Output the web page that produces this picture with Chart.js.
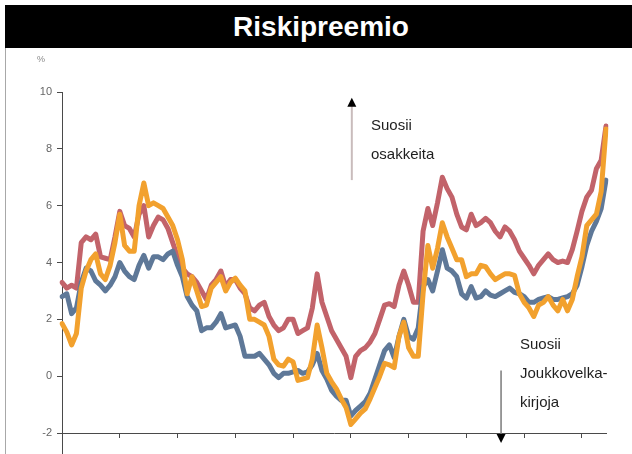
<!DOCTYPE html>
<html>
<head>
<meta charset="utf-8">
<script src="https://cdn.jsdelivr.net/npm/chart.js@4/dist/chart.umd.min.js"></script>
<style>
  html, body { margin: 0; padding: 0; background: #fff; }
  #wrap { position: relative; width: 632px; height: 454px; overflow: hidden; background: #fff; font-family: "Liberation Sans", Arial, sans-serif; }
  #bar { position: absolute; left: 5px; top: 5px; width: 622px; padding-left: 5px; height: 43px; background: #000; color: #fff;
         font: bold 28px "Liberation Sans", Arial, sans-serif; text-align: center; line-height: 43px; }
  #border { position: absolute; left: 5px; top: 48px; width: 1px; height: 406px; background: #a8a8a8; }
  canvas { position: absolute; left: 0; top: 0; }
  .note { position: absolute; font: 15px "Liberation Sans", Arial, sans-serif; color: #1e1e1e; line-height: 29px; white-space: nowrap; }
  #pct { position: absolute; left: 37px; top: 54px; font: 9px "Liberation Sans", Arial, sans-serif; color: #888; }
</style>
</head>
<body>
<div id="wrap">
  <canvas id="c" width="632" height="454"></canvas>
  <div id="bar">Riskipreemio</div>
  <div id="border"></div>
  <div id="pct">%</div>
  <div class="note" style="left:371px; top:110px;">Suosii<br>osakkeita</div>
  <div class="note" style="left:520px; top:329px;">Suosii<br>Joukkovelka-<br>kirjoja</div>
</div>
<script>
// ---- data (monthly observations, %) ----
const months = Array.from({ length: 114 }, (_, i) => String(i + 1));
const yearTickIndex = [12, 24, 36, 48, 60, 72, 84, 96, 108];
const yTicks = [-2, 0, 2, 4, 6, 8, 10];

const seriesOrange = [1.85,1.55,1.1,1.5,3.1,3.7,4.1,4.3,3.6,3.4,
  3.9,4.7,5.7,4.6,4.4,4.4,6.0,6.8,6.0,6.1,
  6.0,5.9,5.6,5.3,4.8,4.1,2.9,3.5,3.0,2.45,
  2.5,3.1,3.3,3.5,3.0,3.3,3.45,3.2,3.0,2.0,
  2.0,1.9,1.8,1.4,0.6,0.4,0.35,0.6,0.5,-0.15,
  -0.1,-0.05,0.6,1.8,1.0,0.1,-0.2,-0.45,-0.8,-1.1,
  -1.7,-1.5,-1.3,-1.15,-0.8,-0.4,0.0,0.45,0.4,0.3,
  1.4,1.9,1.0,0.7,0.7,2.9,4.6,3.8,4.5,5.4,
  4.9,4.5,4.1,4.1,3.5,3.6,3.6,3.9,3.85,3.6,
  3.4,3.5,3.6,3.6,3.55,2.9,2.6,2.4,2.1,2.5,
  2.6,2.8,2.5,2.3,2.7,2.3,2.7,3.5,4.2,5.3,
  5.5,5.7,6.5,8.7];

const seriesBlue = [2.8,2.9,2.2,2.4,3.3,3.8,3.7,3.35,3.2,3.0,
  3.2,3.5,4.0,3.7,3.5,3.4,3.9,4.25,3.8,4.2,
  4.2,4.1,4.3,4.4,3.9,3.5,2.8,2.5,2.3,1.6,
  1.7,1.7,1.9,2.2,1.7,1.75,1.8,1.4,0.7,0.7,
  0.7,0.8,0.6,0.4,0.1,-0.05,0.1,0.1,0.15,0.2,
  0.1,0.15,0.4,0.8,0.2,-0.1,-0.5,-0.7,-0.85,-0.85,
  -1.4,-1.2,-1.05,-0.9,-0.6,-0.1,0.4,0.9,1.1,0.65,
  1.4,2.0,1.4,1.3,1.7,3.15,3.4,3.0,3.7,4.45,
  3.8,3.7,3.5,2.9,2.75,3.15,2.75,2.8,3.0,2.85,
  2.8,2.9,3.0,3.1,2.95,2.9,2.8,2.6,2.6,2.7,
  2.75,2.8,2.7,2.7,2.75,2.8,2.9,3.2,3.85,4.6,
  5.1,5.45,5.9,6.9];

const seriesRed = [3.3,3.1,3.2,3.1,4.7,4.9,4.8,5.0,4.2,4.15,
  4.1,4.9,5.8,5.3,5.2,4.9,5.7,6.0,4.9,5.3,
  5.6,5.5,5.2,4.7,4.2,3.8,3.6,3.5,3.3,3.0,
  2.7,3.2,3.4,3.7,3.15,3.4,3.4,3.1,2.9,2.4,
  2.3,2.5,2.6,2.1,1.8,1.6,1.7,2.0,2.0,1.5,
  1.6,1.7,2.4,3.6,2.6,2.1,1.6,1.3,1.0,0.7,
  -0.05,0.7,0.9,1.0,1.2,1.5,2.0,2.5,2.55,2.45,
  3.2,3.7,3.2,2.6,2.6,5.1,5.9,5.3,6.1,7.0,
  6.6,6.3,5.7,5.25,5.15,5.7,5.3,5.4,5.55,5.4,
  5.1,4.9,5.25,5.1,4.8,4.4,4.15,3.9,3.6,3.9,
  4.1,4.3,4.1,4.0,4.05,4.0,4.45,5.1,5.8,6.3,
  6.55,7.3,7.6,8.8];

// annotation arrows (in data units: month index, %)
const arrowUp = { x: 60.2, from: 6.9, to: 9.8 };
const arrowDown = { x: 91.2, from: 0.2, to: -2.35 };

const AXIS = '#4a4a4a';

const decor = {
  id: 'decor',
  afterDraw(chart) {
    const { ctx, chartArea, scales: { x, y } } = chart;
    ctx.save();
    // y-axis continues below the x-axis
    ctx.strokeStyle = AXIS; ctx.lineWidth = 1;
    ctx.beginPath();
    ctx.moveTo(Math.round(chartArea.left) + 0.5, chartArea.bottom);
    ctx.lineTo(Math.round(chartArea.left) + 0.5, chart.height);
    ctx.stroke();

    function arrow(a, shaftColor, shaftW) {
      const px = x.getPixelForValue(a.x);
      const p0 = y.getPixelForValue(a.from);
      const p1 = y.getPixelForValue(a.to);
      const dir = p1 < p0 ? -1 : 1;
      ctx.strokeStyle = shaftColor; ctx.lineWidth = shaftW;
      ctx.beginPath(); ctx.moveTo(px, p0); ctx.lineTo(px, p1 - dir * 6); ctx.stroke();
      ctx.fillStyle = '#000';
      ctx.beginPath();
      ctx.moveTo(px, p1);
      ctx.lineTo(px - 4.5, p1 - dir * 9);
      ctx.lineTo(px + 4.5, p1 - dir * 9);
      ctx.closePath(); ctx.fill();
    }
    arrow(arrowUp, '#c9bcbc', 2);
    arrow(arrowDown, '#7a7a7a', 1.5);
    ctx.restore();
  }
};

const lineStyle = { borderWidth: 5, pointRadius: 0, tension: 0, fill: false, borderJoinStyle: 'round', borderCapStyle: 'round' };

new Chart(document.getElementById('c'), {
  type: 'line',
  data: {
    labels: months,
    datasets: [
      Object.assign({ label: 'C', data: seriesOrange, borderColor: '#f2a12e' }, lineStyle),
      Object.assign({ label: 'B', data: seriesBlue, borderColor: '#5e7898' }, lineStyle),
      Object.assign({ label: 'A', data: seriesRed, borderColor: '#c2636a' }, lineStyle)
    ]
  },
  options: {
    responsive: false,
    devicePixelRatio: 1,
    animation: false,
    layout: { padding: { top: 92, right: 26, left: 0, bottom: 0 } },
    plugins: { legend: { display: false }, title: { display: false }, tooltip: { enabled: false } },
    scales: {
      x: {
        type: 'category',
        offset: false,
        grid: { display: true, drawOnChartArea: false, drawTicks: true, tickLength: 5, color: AXIS },
        border: { display: true, color: AXIS, width: 1 },
        ticks: { display: false, autoSkip: false },
        afterBuildTicks(s) { s.ticks = s.ticks.filter(t => yearTickIndex.includes(t.value)); },
        afterFit(s) { s.height = 21; }
      },
      y: {
        min: -2, max: 10,
        afterBuildTicks(s) { s.ticks = yTicks.map(v => ({ value: v })); },
        ticks: { color: '#666', font: { family: 'Liberation Sans', size: 11 }, padding: 5 },
        grid: { display: true, drawOnChartArea: false, drawTicks: true, tickLength: 5, color: AXIS },
        border: { display: true, color: AXIS, width: 1 },
        afterFit(s) { s.width = 62; }
      }
    }
  },
  plugins: [decor]
});
</script>
</body>
</html>
